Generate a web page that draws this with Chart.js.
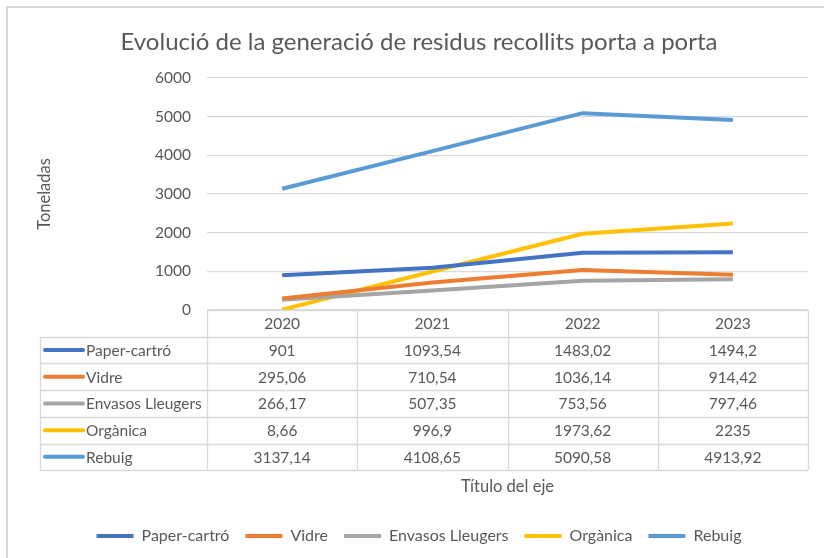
<!DOCTYPE html>
<html>
<head>
<meta charset="utf-8">
<script src="https://cdn.jsdelivr.net/npm/chart.js@4.4.1/dist/chart.umd.min.js"></script>
<style>
  html, body { margin: 0; padding: 0; background: #ffffff; }
  #wrap { width: 824px; height: 558px; position: relative; }
</style>
</head>
<body>
<div id="wrap"><canvas id="c" width="824" height="558"></canvas></div>
<script>
// ---- Data ----
const years = ['2020', '2021', '2022', '2023'];
const seriesNames = ['Paper-cartró', 'Vidre', 'Envasos Lleugers', 'Orgànica', 'Rebuig'];
const paperCartro = [901, 1093.54, 1483.02, 1494.2];
const vidre = [295.06, 710.54, 1036.14, 914.42];
const envasosLleugers = [266.17, 507.35, 753.56, 797.46];
const organica = [8.66, 996.9, 1973.62, 2235];
const rebuig = [3137.14, 4108.65, 5090.58, 4913.92];
const yTicks = [0, 1000, 2000, 3000, 4000, 5000, 6000];
const seriesColors = ['#4472C4', '#ED7D31', '#A5A5A5', '#FFC000', '#5B9BD5'];

const seriesValues = [paperCartro, vidre, envasosLleugers, organica, rebuig];
const FONT = 'Lato, "Open Sans", sans-serif';
const TEXT = '#595959';
const GRID = '#d9d9d9';

function fmt(v) {
  return String(v).replace('.', ',');
}

const tablePlugin = {
  id: 'dataTable',
  beforeDraw(chart) {
    const ctx = chart.ctx;
    ctx.save();
    ctx.fillStyle = '#ffffff';
    ctx.fillRect(0, 0, chart.width, chart.height);
    ctx.strokeStyle = GRID;
    ctx.lineWidth = 2;
    ctx.beginPath();
    ctx.moveTo(7, chart.height);
    ctx.lineTo(7, 7);
    ctx.lineTo(chart.width, 7);
    ctx.stroke();
    ctx.restore();
  },
  afterDraw(chart) {
    const ctx = chart.ctx;
    const x = chart.scales.x;
    const area = chart.chartArea;
    const n = years.length;
    const colW = (area.right - area.left) / n;
    const rowH = 26.7;
    const top = area.bottom;
    const leftCol = area.left - 167;
    const rows = seriesNames.length + 1;
    const bottom = top + rows * rowH;

    ctx.save();
    ctx.strokeStyle = GRID;
    ctx.lineWidth = 1.3;
    ctx.beginPath();
    ctx.moveTo(area.left, Math.round(top) + 0.5);
    ctx.lineTo(area.right, Math.round(top) + 0.5);
    for (let r = 1; r <= rows; r++) {
      const yy = Math.round(top + r * rowH) + 0.5;
      ctx.moveTo(leftCol, yy);
      ctx.lineTo(area.right, yy);
    }
    for (let k = 0; k <= n; k++) {
      const xx = Math.round(area.left + k * colW) + 0.5;
      ctx.moveTo(xx, top);
      ctx.lineTo(xx, bottom);
    }
    ctx.moveTo(leftCol + 0.5, top + rowH);
    ctx.lineTo(leftCol + 0.5, bottom);
    ctx.stroke();

    ctx.fillStyle = TEXT;
    ctx.font = '15.5px ' + FONT;
    ctx.textBaseline = 'middle';
    ctx.textAlign = 'center';
    for (let i = 0; i < n; i++) {
      const cx = x.getPixelForValue(i);
      ctx.fillText(years[i], cx, top + rowH / 2 + 1);
    }
    for (let s = 0; s < seriesNames.length; s++) {
      const cy = top + (s + 1) * rowH + rowH / 2 + 1;
      ctx.font = '15.5px ' + FONT;
      for (let i = 0; i < n; i++) {
        const cx = x.getPixelForValue(i);
        ctx.textAlign = 'center';
        ctx.fillText(fmt(seriesValues[s][i]), cx, cy);
      }
      ctx.strokeStyle = seriesColors[s];
      ctx.lineWidth = 4;
      ctx.lineCap = 'round';
      ctx.beginPath();
      ctx.moveTo(leftCol + 5, cy - 1);
      ctx.lineTo(leftCol + 43, cy - 1);
      ctx.stroke();
      ctx.font = '15.5px ' + FONT;
      ctx.textAlign = 'left';
      ctx.fillText(seriesNames[s], leftCol + 46, cy);
    }
    ctx.restore();
  }
};

const datasets = seriesNames.map((name, i) => ({
  label: name,
  data: seriesValues[i],
  borderColor: seriesColors[i],
  backgroundColor: seriesColors[i],
  borderWidth: 4,
  pointRadius: 0,
  pointHoverRadius: 0,
  tension: 0,
  fill: false,
  borderCapStyle: 'butt',
  borderJoinStyle: 'round'
}));

new Chart(document.getElementById('c'), {
  type: 'line',
  data: { labels: years, datasets },
  plugins: [tablePlugin],
  options: {
    responsive: false,
    animation: false,
    devicePixelRatio: 1,
    layout: { padding: { left: 30, right: 16, top: 0, bottom: 4 } },
    plugins: {
      title: {
        display: true,
        text: 'Evolució de la generació de residus recollits porta a porta',
        color: TEXT,
        font: { family: FONT, size: 24, weight: 'normal', lineHeight: 1.2 },
        padding: { top: 27.6, bottom: 21.6 }
      },
      legend: {
        display: true,
        position: 'bottom',
        labels: {
          color: TEXT,
          font: { family: FONT, size: 16 },
          boxWidth: 37,
          boxHeight: 4,
          padding: 16,
          generateLabels(chart) {
            const items = Chart.defaults.plugins.legend.labels.generateLabels(chart);
            return items.map(it => Object.assign(it, { lineWidth: 0, fillStyle: it.strokeStyle }));
          }
        }
      },
      tooltip: { enabled: false }
    },
    scales: {
      x: {
        type: 'category',
        offset: true,
        grid: { display: false },
        border: { display: false },
        ticks: { display: false },
        title: {
          display: true,
          text: 'Título del eje',
          color: TEXT,
          font: { family: FONT, size: 16.5, lineHeight: 1.2 },
          padding: { top: 0, bottom: 15.4 }
        },
        afterFit(scale) { scale.height = 202; }
      },
      y: {
        min: 0,
        max: 6000,
        afterBuildTicks(scale) { scale.ticks = yTicks.map(v => ({ value: v })); },
        grid: { color: GRID, lineWidth: 1.3, drawTicks: false },
        border: { display: false },
        ticks: {
          color: TEXT,
          font: { family: FONT, size: 15.5 },
          padding: 16,
          callback: (v) => String(v)
        },
        title: {
          display: true,
          text: 'Toneladas',
          color: TEXT,
          font: { family: FONT, size: 16.5, lineHeight: 1.2 },
          padding: { top: 4.4, bottom: 0 }
        },
        afterFit(scale) { scale.width = 177; }
      }
    }
  }
});
</script>
</body>
</html>
